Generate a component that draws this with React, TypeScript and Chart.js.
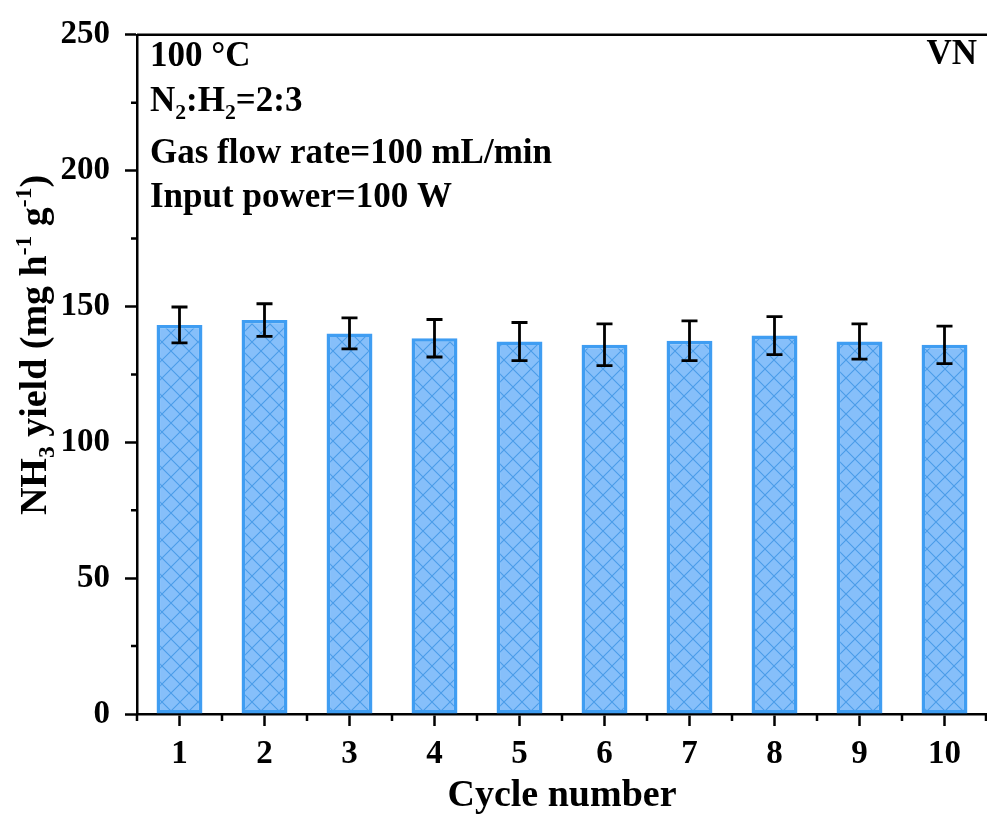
import React, { useEffect, useRef } from "react";
import { Chart, registerables } from "chart.js";

Chart.register(...registerables);

const categories = ["1", "2", "3", "4", "5", "6", "7", "8", "9", "10"];
const yieldValues = [143.2, 145.0, 140.1, 138.3, 137.1, 135.9, 137.4, 139.3, 137.1, 135.9];
const yieldErrors = [6.6, 6.0, 5.7, 6.9, 7.0, 7.7, 7.3, 7.0, 6.5, 6.9];
const yMin = 0;
const yMax = 250;
const yStep = 50;
const yMinorValues = [25, 75, 125, 175, 225];

type Seg = { t: string; s?: "sub" | "sup" };
const annotationLines: Seg[][] = [
  [{ t: "100 °C" }],
  [{ t: "N" }, { t: "2", s: "sub" }, { t: ":H" }, { t: "2", s: "sub" }, { t: "=2:3" }],
  [{ t: "Gas flow rate=100 mL/min" }],
  [{ t: "Input power=100 W" }],
];
const sampleLabel = "VN";
const xTitle = "Cycle number";
const yTitle: Seg[] = [
  { t: "NH" }, { t: "3", s: "sub" }, { t: " yield (mg h" }, { t: "-1", s: "sup" },
  { t: " g" }, { t: "-1", s: "sup" }, { t: ")" },
];

const FAMILY = "'Liberation Serif', 'Times New Roman', serif";
const font = (size: number) => `bold ${size}px ${FAMILY}`;

function segWidth(ctx: CanvasRenderingContext2D, segs: Seg[], size: number) {
  let w = 0;
  for (const sg of segs) {
    ctx.font = font(sg.s ? size * 0.62 : size);
    w += ctx.measureText(sg.t).width;
  }
  return w;
}

function drawRich(ctx: CanvasRenderingContext2D, segs: Seg[], x: number, y: number, size: number) {
  let cx = x;
  ctx.textBaseline = "alphabetic";
  ctx.textAlign = "left";
  for (const sg of segs) {
    const sz = sg.s ? size * 0.62 : size;
    ctx.font = font(sz);
    const dy = sg.s === "sub" ? size * 0.22 : sg.s === "sup" ? -size * 0.4 : 0;
    ctx.fillText(sg.t, cx, y + dy);
    cx += ctx.measureText(sg.t).width;
  }
}

function makePattern(): CanvasPattern | string {
  const s = 18;
  const c = document.createElement("canvas");
  c.width = s;
  c.height = s;
  const g = c.getContext("2d");
  if (!g) return "#86C0FA";
  g.fillStyle = "#86BFFA";
  g.fillRect(0, 0, s, s);
  g.strokeStyle = "#4A9CE8";
  g.lineWidth = 1.1;
  g.beginPath();
  g.moveTo(-2, -2);
  g.lineTo(s + 2, s + 2);
  g.moveTo(-2, s + 2);
  g.lineTo(s + 2, -2);
  g.stroke();
  const p = g.createPattern(c, "repeat");
  return p || "#86C0FA";
}

const decorPlugin = {
  id: "decor",
  afterDatasetsDraw(chart: any) {
    const ctx: CanvasRenderingContext2D = chart.ctx;
    const meta = chart.getDatasetMeta(0);
    const yScale = chart.scales.y;
    ctx.save();
    ctx.strokeStyle = "#000";
    ctx.lineWidth = 2.8;
    meta.data.forEach((bar: any, i: number) => {
      const v = yieldValues[i];
      const e = yieldErrors[i];
      const top = yScale.getPixelForValue(v + e);
      const bot = yScale.getPixelForValue(v - e);
      const x = bar.x;
      ctx.beginPath();
      ctx.moveTo(x, top);
      ctx.lineTo(x, bot);
      ctx.moveTo(x - 8, top);
      ctx.lineTo(x + 8, top);
      ctx.moveTo(x - 8, bot);
      ctx.lineTo(x + 8, bot);
      ctx.stroke();
    });
    ctx.restore();
  },
  afterDraw(chart: any) {
    const ctx: CanvasRenderingContext2D = chart.ctx;
    const area = chart.chartArea;
    const xScale = chart.scales.x;
    const yScale = chart.scales.y;
    ctx.save();
    ctx.strokeStyle = "#000";
    ctx.fillStyle = "#000";
    ctx.lineWidth = 2.5;
    // top border
    ctx.beginPath();
    ctx.moveTo(area.left, area.top);
    ctx.lineTo(area.right, area.top);
    ctx.stroke();
    // minor x ticks
    ctx.beginPath();
    const n = categories.length;
    for (let i = 0; i <= n; i++) {
      let x: number;
      if (i === 0) x = area.left;
      else if (i === n) x = area.right - 1;
      else x = (xScale.getPixelForValue(i - 1) + xScale.getPixelForValue(i)) / 2;
      ctx.moveTo(x, area.bottom);
      ctx.lineTo(x, area.bottom + 7);
    }
    // minor y ticks
    for (const v of yMinorValues) {
      const y = yScale.getPixelForValue(v);
      ctx.moveTo(area.left, y);
      ctx.lineTo(area.left - 6, y);
    }
    ctx.stroke();

    // annotations
    const aSize = 35;
    const baselines = [66, 111, 163, 207];
    annotationLines.forEach((line, i) => drawRich(ctx, line, 150, baselines[i], aSize));
    ctx.font = font(aSize);
    ctx.textAlign = "right";
    ctx.textBaseline = "alphabetic";
    ctx.fillText(sampleLabel, 977, 64);

    // x title
    ctx.font = font(38);
    ctx.textAlign = "center";
    ctx.fillText(xTitle, (area.left + area.right) / 2, 806);

    // y title
    const tSize = 38;
    const w = segWidth(ctx, yTitle, tSize);
    ctx.save();
    ctx.translate(46, 345);
    ctx.rotate(-Math.PI / 2);
    drawRich(ctx, yTitle, -w / 2, 0, tSize);
    ctx.restore();
    ctx.restore();
  },
};

export default function App() {
  const ref = useRef<HTMLCanvasElement>(null);
  useEffect(() => {
    if (!ref.current) return;
    const pattern = makePattern();
    const chart = new Chart(ref.current, {
      type: "bar",
      data: {
        labels: categories,
        datasets: [
          {
            data: yieldValues,
            backgroundColor: pattern as any,
            borderColor: "#3F9DF2",
            borderWidth: 3.5,
            borderSkipped: false,
            barPercentage: 0.54,
            categoryPercentage: 1,
          },
        ],
      },
      options: {
        animation: false,
        responsive: false,
        devicePixelRatio: 1,
        layout: { padding: { top: 26, right: 0, left: 0, bottom: 0 } },
        plugins: { legend: { display: false }, tooltip: { enabled: false }, title: { display: false } },
        scales: {
          x: {
            type: "category",
            offset: true,
            grid: {
              display: true,
              drawOnChartArea: false,
              drawTicks: true,
              tickLength: 12,
              tickWidth: 2.5,
              tickColor: "#000",
              offset: false,
            },
            border: { display: true, color: "#000", width: 2.5 },
            ticks: { color: "#000", font: { family: FAMILY, size: 33, weight: "bold" }, padding: 9, maxRotation: 0 },
            afterFit: (s: any) => { s.height = 102; },
          },
          y: {
            min: yMin,
            max: yMax,
            grid: {
              display: true,
              drawOnChartArea: false,
              drawTicks: true,
              tickLength: 12,
              tickWidth: 2.5,
              tickColor: "#000",
            },
            border: { display: true, color: "#000", width: 2.5 },
            ticks: { stepSize: yStep, color: "#000", font: { family: FAMILY, size: 33, weight: "bold" }, padding: 15 },
            afterFit: (s: any) => { s.width = 137; },
          },
        },
      },
      plugins: [decorPlugin],
    });
    return () => chart.destroy();
  }, []);
  return (
    <div style={{ position: "absolute", left: 0, top: 0, width: 987, height: 816, background: "#fff" }}>
      <canvas ref={ref} width={987} height={816} style={{ display: "block" }} />
    </div>
  );
}
